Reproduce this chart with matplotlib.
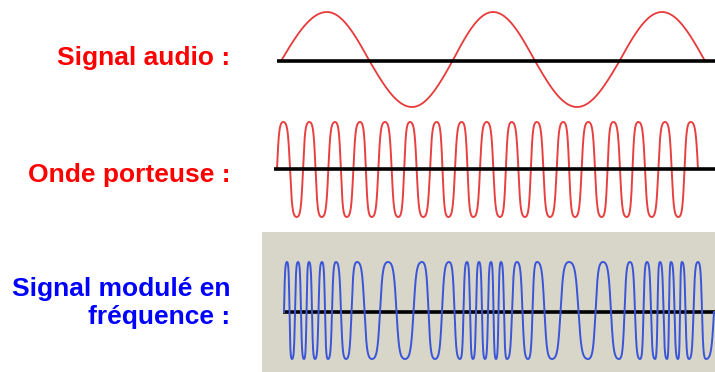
import numpy as np
import matplotlib
matplotlib.use("Agg")
import matplotlib.pyplot as plt
from matplotlib.patches import Rectangle

# ---- data (pixel coordinates) ----
labels = ["Signal audio :", "Onde porteuse :", "Signal modulé en\nfréquence :"]

# audio signal: zero start, extrema (alternating peak/trough), zero end
audio_start, audio_end = 281, 705
audio_peaks = [327, 493, 662]
audio_troughs = [412, 577]

# carrier wave
carrier_start, carrier_end = 277, 698
carrier_peaks = [283.3, 309.3, 335, 360, 385, 410, 436.7, 461.7, 486.7, 511.7,
                 536.7, 563.3, 588.3, 613.3, 638.3, 665, 690.7]
carrier_troughs = [296.7, 321.7, 346.7, 371.7, 398.3, 423.3, 448.3, 473.3,
                   500, 525, 550, 575, 601.7, 626.7, 651.7, 678.3]

# frequency-modulated signal
fm_start, fm_end = 284, 714
fm_peaks = [287, 298, 309, 322, 336, 357, 388, 422, 449, 467, 479, 491, 501,
            517, 537, 569, 603, 630, 647, 660, 671, 682, 698]
fm_troughs = [292, 304, 315, 328, 346, 372, 405, 435, 460, 473, 485, 496,
              507, 528, 552, 588, 619, 640, 655, 667, 678, 689, 706]

W, H = 715, 372
fig = plt.figure(figsize=(W / 100, H / 100), dpi=100)
ax = fig.add_axes([0, 0, 1, 1])
ax.set_xlim(0, W)
ax.set_ylim(H, 0)
ax.axis("off")


def wave(start, peaks, troughs, end, top, bottom, center, square=0.0):
    ext = sorted(peaks + troughs)
    knots = [start] + ext + [end]
    phases = [0.0] + [np.pi / 2 + np.pi * i for i in range(len(ext))]
    phases.append(phases[-1] + np.pi / 2)
    x = np.linspace(start, end, 8000)
    s = np.sin(np.interp(x, knots, phases))
    if square > 0:
        s = np.tanh(square * s) / np.tanh(square)
    y = np.where(s > 0, center - s * (center - top), center - s * (bottom - center))
    return x, y


# background of FM panel
ax.add_patch(Rectangle((262, 232), W - 262, H - 232, facecolor="#d8d5c9",
                       edgecolor="none", zorder=0))

# audio
x, y = wave(audio_start, audio_peaks, audio_troughs, audio_end, 12, 107, 61)
ax.plot(x, y, color="#e83a3a", lw=1.3, zorder=2)
ax.plot([277, W], [61, 61], color="black", lw=2.6, zorder=3, solid_capstyle="butt")

# carrier
x, y = wave(carrier_start, carrier_peaks, carrier_troughs, carrier_end,
            122, 217, 169, square=1.8)
ax.plot(x, y, color="#e84040", lw=1.4, zorder=2)
ax.plot([274, W], [169, 169], color="black", lw=2.6, zorder=3, solid_capstyle="butt")

# FM
ax.plot([283, W], [312, 312], color="black", lw=2.6, zorder=2, solid_capstyle="butt")
x, y = wave(fm_start, fm_peaks, fm_troughs, fm_end, 262, 359, 312, square=1.8)
ax.plot(x, y, color="#3a55d8", lw=1.4, zorder=3)

font = dict(family=["Liberation Sans", "DejaVu Sans"], fontweight="bold",
            fontsize=19, ha="right", va="baseline")
ax.text(230, 65, labels[0], color="#ff0000", **font)
ax.text(230, 182, labels[1], color="#ff0000", **font)
ax.text(230, 324, labels[2], color="#0000ff", linespacing=1.22, **font)

fig.savefig("out.png", dpi=100)
